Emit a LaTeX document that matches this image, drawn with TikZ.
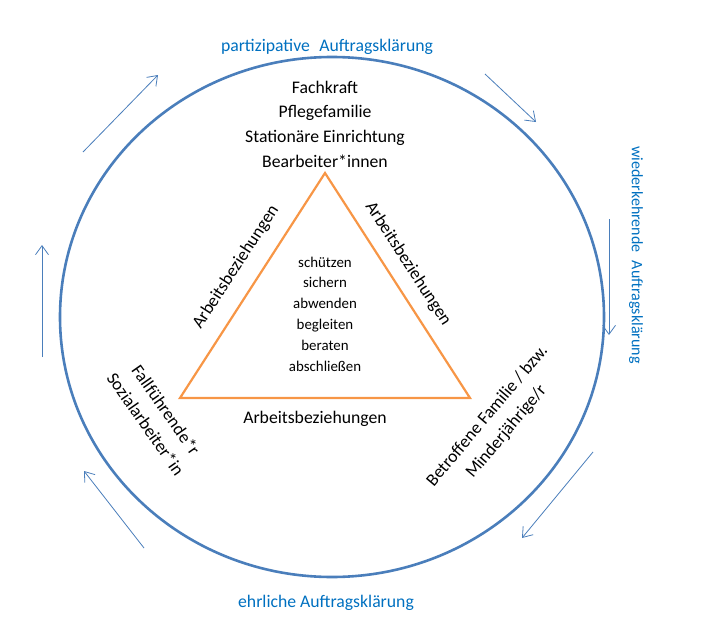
\documentclass[tikz,border=0pt]{standalone}
\usepackage{fontspec}
\setmainfont{Carlito}
\usetikzlibrary{arrows.meta}
\definecolor{ringblue}{HTML}{4A7EBB}
\definecolor{textblue}{HTML}{0070C0}
\definecolor{triorange}{HTML}{F79646}

\begin{document}
\begin{tikzpicture}[x=1pt, y=-1pt,
  role/.style={font=\fontsize{17.7}{24.7}\selectfont, align=center, inner sep=0pt},
  task/.style={font=\fontsize{14.9}{20.8}\selectfont, align=center, inner sep=0pt},
  phase/.style={font=\fontsize{17.7}{20}\selectfont, text=textblue, inner sep=0pt},
  rel/.style={font=\fontsize{17.7}{20}\selectfont, inner sep=0pt},
  ring/.style={draw=ringblue, line width=2.6pt},
  tri/.style={draw=triorange, line width=2.2pt, line join=miter},
  arr/.style={-{Straight Barb[length=9pt,width=13pt]}, ringblue, line width=0.8pt},
]
\useasboundingbox (0,0) rectangle (702,621);

% ── Outer ring ──
\coordinate (ctr) at (332,317);
\draw[ring] (ctr) ellipse [x radius=272pt, y radius=260pt];

% ── Triangle ──
\coordinate (apex) at (325,173);
\coordinate (bl) at (180,398);
\coordinate (br) at (470,398);
\draw[tri] (apex) -- (br) -- (bl) -- cycle;

% ── Phase labels ──
\node[phase] (p1) at (327,47) {partizipative\hspace{0.3em} Auftragsklärung};
\node[phase, rotate=-90, font=\fontsize{16}{20}\selectfont] (p2) at (636,255)
  {wiederkehrende\hspace{0.3em} Auftragsklärung};
\node[phase] (p3) at (326,603) {ehrliche Auftragsklärung};

% ── Cycle arrows ──
\coordinate (a1s) at (83,152);  \coordinate (a1e) at (158,75);
\coordinate (a2s) at (485,74);  \coordinate (a2e) at (536,122);
\coordinate (a3s) at (609,219); \coordinate (a3e) at (609,335);
\coordinate (a4s) at (593,452); \coordinate (a4e) at (522,538);
\coordinate (a5s) at (144,548); \coordinate (a5e) at (84,471);
\coordinate (a6s) at (42,357);  \coordinate (a6e) at (42,245);
\draw[arr] (a1s) -- (a1e);
\draw[arr] (a2s) -- (a2e);
\draw[arr] (a3s) -- (a3e);
\draw[arr] (a4s) -- (a4e);
\draw[arr] (a5s) -- (a5e);
\draw[arr] (a6s) -- (a6e);

% ── Corner roles ──
\node[role] (top) at (325,124)
  {Fachkraft\\Pflegefamilie\\Stationäre Einrichtung\\Bearbeiter*innen};
\node[role, rotate=-55] (case) at (156,417)
  {Fallführende*r\\Sozialarbeiter*in};
\node[role, rotate=50] (family) at (497,424)
  {Betroffene Familie / bzw.\\Minderjährige/r};

% ── Tasks ──
\node[task] (tasks) at (325,314)
  {schützen\\sichern\\abwenden\\begleiten\\beraten\\abschließen};

% ── Relations along the sides ──
\node[rel, rotate=57] (relL) at (236,267) {Arbeitsbeziehungen};
\node[rel, rotate=-57] (relR) at (408,264) {Arbeitsbeziehungen};
\node[rel] (relB) at (315,419) {Arbeitsbeziehungen};
\end{tikzpicture}
\end{document}
